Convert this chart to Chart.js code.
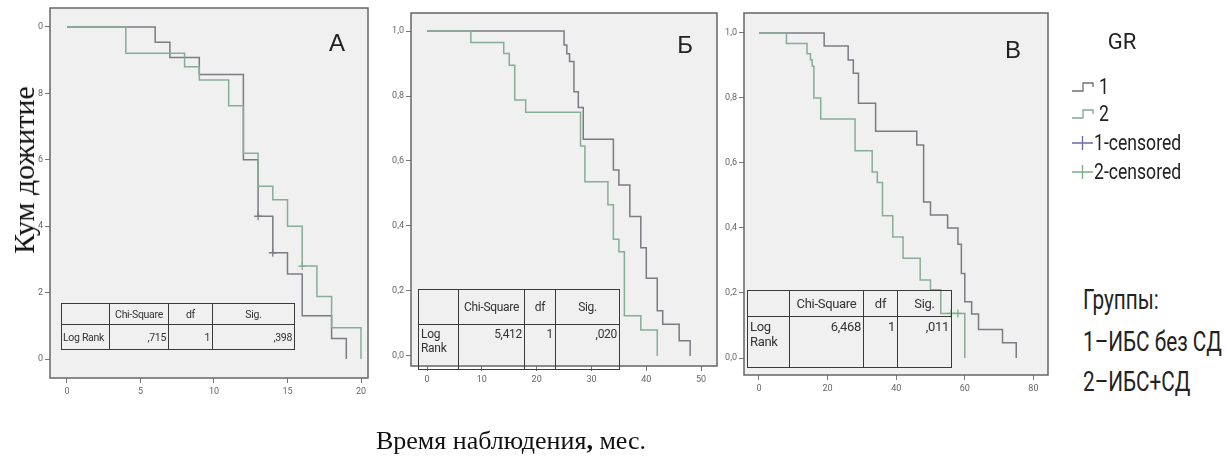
<!DOCTYPE html>
<html>
<head>
<meta charset="utf-8">
<script src="https://cdn.jsdelivr.net/npm/chart.js@4/dist/chart.umd.min.js"></script>
<style>
body { margin: 0; background: #fff; }
#page { position: relative; width: 1227px; height: 462px; overflow: hidden; font-family: Roboto, "Liberation Sans", sans-serif; color: #222; }
.panel { position: absolute; top: 0; }
.txt { position: absolute; white-space: nowrap; line-height: 1; transform: translate(-50%, -50%); }
.ltxt { position: absolute; white-space: nowrap; line-height: 1; transform: translateY(-50%) scaleX(0.8); transform-origin: left center; }
.grp { transform: translateY(-50%) scaleX(0.74); }
.km { position: absolute; border-collapse: collapse; table-layout: fixed; color: #333; letter-spacing: -0.3px; }
.km td { border: 1.5px solid #3a3a3a; padding: 0 2px; overflow: hidden; white-space: nowrap; }
.km td.c { text-align: center; }
.km td.r { text-align: right; }
.km td.top { vertical-align: top; padding-top: 2px; }
.serif { font-family: "Liberation Serif", "DejaVu Serif", serif; color: #111; }
</style>
</head>
<body>
<div id="page">
  <div class="panel" style="left:0px"><canvas id="chartA" width="380" height="420"></canvas></div>
  <div class="panel" style="left:370px"><canvas id="chartB" width="360" height="420"></canvas></div>
  <div class="panel" style="left:700px"><canvas id="chartC" width="360" height="420"></canvas></div>

  <div class="txt" style="left:337px;top:43px;font-size:24px;font-family:'Liberation Sans',sans-serif">А</div>
  <div class="txt" style="left:685px;top:45px;font-size:24px;font-family:'Liberation Sans',sans-serif">Б</div>
  <div class="txt" style="left:1013px;top:50px;font-size:24px;font-family:'Liberation Sans',sans-serif">В</div>

  <table class="km" style="left:61px;top:303px;width:233px;font-size:10.5px">
    <colgroup><col style="width:48px"><col style="width:59px"><col style="width:44px"><col style="width:82px"></colgroup>
    <tr style="height:21px"><td></td><td class="c">Chi-Square</td><td class="c">df</td><td class="c">Sig.</td></tr>
    <tr style="height:25px"><td style="padding-left:1px">Log Rank</td><td class="r">,715</td><td class="r">1</td><td class="r">,398</td></tr>
  </table>

  <table class="km" style="left:418px;top:289px;width:201px;font-size:12px">
    <colgroup><col style="width:40px"><col style="width:66px"><col style="width:31px"><col style="width:64px"></colgroup>
    <tr style="height:35px"><td></td><td class="c">Chi-Square</td><td class="c">df</td><td class="c">Sig.</td></tr>
    <tr style="height:45px"><td class="top">Log<br>Rank</td><td class="r top">5,412</td><td class="r top">1</td><td class="r top">,020</td></tr>
  </table>

  <table class="km" style="left:747px;top:290px;width:204px;font-size:13px">
    <colgroup><col style="width:42px"><col style="width:74px"><col style="width:34px"><col style="width:54px"></colgroup>
    <tr style="height:26px"><td></td><td class="c">Chi-Square</td><td class="c">df</td><td class="c">Sig.</td></tr>
    <tr style="height:51px"><td class="top">Log<br>Rank</td><td class="r top">6,468</td><td class="r top">1</td><td class="r top">,011</td></tr>
  </table>

  <div class="txt" style="left:1122px;top:42px;font-size:22px">GR</div>
  <svg style="position:absolute;left:1072px;top:81px" width="24" height="13"><polyline points="0,10 11,10 11,2 21,2 21,6" fill="none" stroke="#6f6f74" stroke-width="1.3"/></svg>
  <div class="ltxt" style="left:1099px;top:87px;font-size:22px">1</div>
  <svg style="position:absolute;left:1072px;top:108px" width="24" height="13"><polyline points="0,10 11,10 11,2 21,2 21,6" fill="none" stroke="#7fa98f" stroke-width="1.3"/></svg>
  <div class="ltxt" style="left:1099px;top:114px;font-size:22px">2</div>
  <svg style="position:absolute;left:1072px;top:135px" width="22" height="16"><path d="M0,8 H21 M10.5,1 V15" fill="none" stroke="#6b6ba4" stroke-width="1.3"/></svg>
  <div class="ltxt" style="left:1094px;top:143px;font-size:22px">1-censored</div>
  <svg style="position:absolute;left:1072px;top:164px" width="22" height="16"><path d="M0,8 H21 M10.5,1 V15" fill="none" stroke="#79b083" stroke-width="1.3"/></svg>
  <div class="ltxt" style="left:1094px;top:172px;font-size:22px">2-censored</div>

  <div class="ltxt grp" style="left:1083px;top:300px;font-size:28px">Группы:</div>
  <div class="ltxt grp" style="left:1083px;top:342px;font-size:28px">1–ИБС без СД</div>
  <div class="ltxt grp" style="left:1083px;top:382px;font-size:28px">2–ИБС+СД</div>

  <div class="txt serif" style="left:24px;top:170px;font-size:30px;transform:translate(-50%,-50%) rotate(-90deg)">Кум дожитие</div>
  <div class="txt serif" style="left:511px;top:441px;font-size:26px">Время наблюдения<b>,</b> мес.</div>
</div>

<script>
// panel A
var timeA1 = [0, 6, 7, 9, 12, 13, 14, 15, 16, 18, 19];
var survA1 = [1, 0.954, 0.908, 0.857, 0.60, 0.43, 0.32, 0.256, 0.13, 0.062, 0];
var timeA2 = [0, 4, 8, 9, 11, 12, 13, 14, 15, 16, 17, 18, 20];
var survA2 = [1, 0.921, 0.88, 0.84, 0.763, 0.62, 0.52, 0.48, 0.40, 0.28, 0.188, 0.094, 0];
var censTimeA1 = [13, 14];
var censSurvA1 = [0.43, 0.32];
var censTimeA2 = [16];
var censSurvA2 = [0.28];

// panel Б
var timeB1 = [0, 25, 25.5, 26, 26.8, 27.6, 28.5, 34, 35, 37, 39, 40, 42, 43, 46, 48];
var survB1 = [1, 0.957, 0.93, 0.906, 0.813, 0.765, 0.667, 0.572, 0.526, 0.429, 0.333, 0.239, 0.139, 0.098, 0.047, 0];
var timeB2 = [0, 8, 14, 15, 16, 18, 28, 28.8, 33, 34, 35, 36, 39, 42];
var survB2 = [1, 0.965, 0.931, 0.895, 0.788, 0.75, 0.646, 0.536, 0.465, 0.359, 0.321, 0.124, 0.08, 0];

// panel В
var timeC1 = [0, 19, 26, 27.5, 29, 34, 46, 48, 50, 55, 58, 59, 60, 62, 64, 71, 75];
var survC1 = [1, 0.96, 0.917, 0.876, 0.784, 0.698, 0.655, 0.48, 0.44, 0.40, 0.35, 0.26, 0.173, 0.135, 0.088, 0.047, 0];
var timeC2 = [0, 8, 14, 15, 15.5, 16, 18, 28, 33, 34.5, 36, 39, 42, 47, 50, 53, 60];
var survC2 = [1, 0.968, 0.936, 0.918, 0.898, 0.80, 0.735, 0.638, 0.572, 0.54, 0.438, 0.372, 0.307, 0.24, 0.21, 0.137, 0];
var censTimeC2 = [56, 58];
var censSurvC2 = [0.137, 0.137];

// axes
var xTicksA = [0, 5, 10, 15, 20];
var xTicksB = [0, 10, 20, 30, 40, 50];
var xTicksC = [0, 20, 40, 60, 80];
var yTicks = [0, 0.2, 0.4, 0.6, 0.8, 1.0];
var yLabelsA = ['0', '2', '4', '6', '8', '0'];   // labels are cut off in the source picture
var yLabels = ['0,0', '0,2', '0,4', '0,6', '0,8', '1,0'];

var colorGr1 = '#7b7b82';
var colorGr2 = '#86ad98';
var colorCens2 = '#79b083';
var tickFont = { family: 'Roboto, "Liberation Sans", sans-serif', size: 9 };

function kmPoints(times, surv) {
	return times.map(function (t, i) { return { x: t, y: surv[i] }; });
}

function curve(times, surv, color) {
	return { data: kmPoints(times, surv), stepped: true, borderColor: color, borderWidth: 1.5, pointRadius: 0, fill: false };
}

function censored(times, surv, color) {
	return { data: kmPoints(times, surv), showLine: false, pointStyle: 'cross', pointRadius: 4, borderColor: color, borderWidth: 1.3, backgroundColor: color };
}

var framePlugin = {
	id: 'frame',
	beforeDraw: function (chart) {
		var a = chart.chartArea, ctx = chart.ctx;
		ctx.save();
		ctx.fillStyle = '#f0f0f0';
		ctx.fillRect(a.left, a.top, a.right - a.left, a.bottom - a.top);
		ctx.restore();
	},
	afterDraw: function (chart) {
		var a = chart.chartArea, ctx = chart.ctx;
		ctx.save();
		ctx.strokeStyle = '#666';
		ctx.lineWidth = 1.5;
		ctx.strokeRect(a.left, a.top, a.right - a.left, a.bottom - a.top);
		ctx.restore();
	}
};

function makePanel(id, geo, xTicks, yLab, datasets) {
	return new Chart(document.getElementById(id), {
		type: 'line',
		data: { datasets: datasets },
		options: {
			responsive: false,
			animation: false,
			layout: { padding: { top: geo.top, right: geo.w - geo.right, left: 0, bottom: 0 } },
			plugins: { legend: { display: false }, tooltip: { enabled: false } },
			scales: {
				x: {
					type: 'linear', min: geo.xMin, max: geo.xMax,
					afterBuildTicks: function (s) { s.ticks = xTicks.map(function (v) { return { value: v }; }); },
					afterFit: function (s) { s.height = geo.h - geo.bottom; },
					ticks: { font: tickFont, color: '#666', padding: 3, maxRotation: 0, autoSkip: false },
					grid: { drawOnChartArea: false, tickLength: 5, color: '#777' },
					border: { display: false }
				},
				y: {
					type: 'linear', min: geo.yMin, max: geo.yMax,
					afterBuildTicks: function (s) { s.ticks = yTicks.map(function (v) { return { value: v }; }); },
					afterFit: function (s) { s.width = geo.left; },
					ticks: { font: tickFont, color: '#666', padding: 2, autoSkip: false, callback: function (v, i) { return yLab[i]; } },
					grid: { drawOnChartArea: false, tickLength: 5, color: '#777' },
					border: { display: false }
				}
			}
		},
		plugins: [framePlugin]
	});
}

makePanel('chartA',
	{ w: 380, h: 420, left: 50, top: 8, right: 368, bottom: 378, xMin: -1.156, xMax: 20.476, yMin: -0.0572, yMax: 1.0572 },
	xTicksA, yLabelsA,
	[curve(timeA2, survA2, colorGr2), curve(timeA1, survA1, colorGr1),
	 censored(censTimeA1, censSurvA1, colorGr1), censored(censTimeA2, censSurvA2, colorCens2)]);

makePanel('chartB',
	{ w: 360, h: 420, left: 41, top: 13, right: 347, bottom: 366, xMin: -2.92, xMax: 52.9, yMin: -0.0308, yMax: 1.0554 },
	xTicksB, yLabels,
	[curve(timeB2, survB2, colorGr2), curve(timeB1, survB1, colorGr1)]);

makePanel('chartC',
	{ w: 360, h: 420, left: 44, top: 13, right: 348, bottom: 375, xMin: -4.37, xMax: 84.26, yMin: -0.0523, yMax: 1.0615 },
	xTicksC, yLabels,
	[curve(timeC2, survC2, colorGr2), curve(timeC1, survC1, colorGr1),
	 censored(censTimeC2, censSurvC2, colorCens2)]);
</script>
</body>
</html>
